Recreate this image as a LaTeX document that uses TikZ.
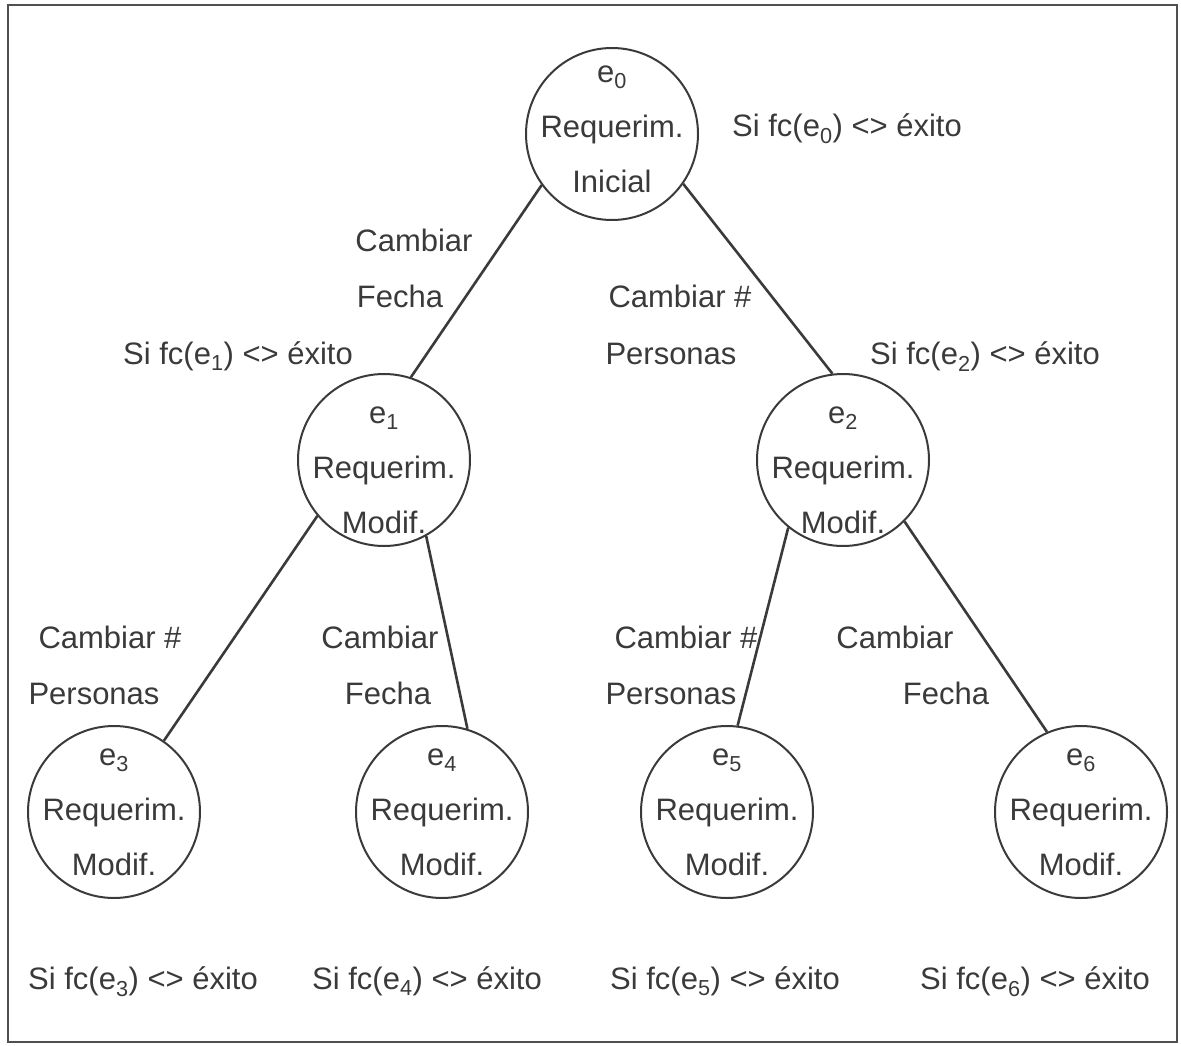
\documentclass[tikz,border=0pt]{standalone}
\usepackage{fontspec}
\setmainfont{Liberation Sans}
\definecolor{ink}{HTML}{3A3A3A}
\definecolor{rule}{HTML}{505050}
\begin{document}
\begin{tikzpicture}[x=1pt,y=-1pt,
  state/.style={circle,draw=ink,line width=2pt,minimum size=172pt,inner sep=0pt},
  stxt/.style={align=center,text=ink,inner sep=0pt,font=\fontsize{31}{55}\selectfont},
  lbl/.style={text=ink,font=\fontsize{31}{37}\selectfont,inner sep=0pt,
    text height=23pt,text depth=0pt},
  edge/.style={draw=ink,line width=2.6pt}]
\useasboundingbox (0,0) rectangle (1181,1046);
\draw[rule,line width=2.5pt] (8,5) rectangle (1177,1042);

% states of the search tree
\node[state] (e0) at (612,134) {};
\node[state] (e1) at (384,460) {};
\node[state] (e2) at (843,460) {};
\node[state] (e3) at (114,812) {};
\node[state] (e4) at (442,812) {};
\node[state] (e5) at (727,812) {};
\node[state] (e6) at (1081,812) {};

\node[stxt] (s0) at ([yshift=5pt]e0.center) {e\textsubscript{0}\\Requerim.\\Inicial};
\node[stxt] (s1) at ([yshift=-10pt]e1.center) {e\textsubscript{1}\\Requerim.\\Modif.};
\node[stxt] (s2) at ([yshift=-10pt]e2.center) {e\textsubscript{2}\\Requerim.\\Modif.};
\node[stxt] (s3) at (e3.center) {e\textsubscript{3}\\Requerim.\\Modif.};
\node[stxt] (s4) at (e4.center) {e\textsubscript{4}\\Requerim.\\Modif.};
\node[stxt] (s5) at (e5.center) {e\textsubscript{5}\\Requerim.\\Modif.};
\node[stxt] (s6) at (e6.center) {e\textsubscript{6}\\Requerim.\\Modif.};

% transitions
\draw[edge] (e0.216) -- (e1.72);
\draw[edge] (e0.325) -- (e2.97);
\draw[edge] (e1.220) -- (e3.55);
\draw[edge] (e1.299) -- (e4.73);
\draw[edge] (e2.231) -- (e5.83);
\draw[edge] (e2.315) -- (e6.113);

% operator labels
\node[lbl] (a1) at (414,240) {Cambiar};
\node[lbl] (b1) at (400,296) {Fecha};
\node[lbl] (a2) at (680,296) {Cambiar \#};
\node[lbl] (b2) at (671,353) {Personas};
\node[lbl] (a3) at (110,637) {Cambiar \#};
\node[lbl] (b3) at (94,693) {Personas};
\node[lbl] (a4) at (380,637) {Cambiar};
\node[lbl] (b4) at (388,693) {Fecha};
\node[lbl] (a5) at (686,637) {Cambiar \#};
\node[lbl] (b5) at (671,693) {Personas};
\node[lbl] (a6) at (895,637) {Cambiar};
\node[lbl] (b6) at (946,693) {Fecha};

% goal tests
\node[lbl] (t0) at (847,125) {Si fc(e\textsubscript{0}) <> éxito};
\node[lbl] (t1) at (238,353) {Si fc(e\textsubscript{1}) <> éxito};
\node[lbl] (t2) at (985,353) {Si fc(e\textsubscript{2}) <> éxito};
\node[lbl] (t3) at (143,978) {Si fc(e\textsubscript{3}) <> éxito};
\node[lbl] (t4) at (427,978) {Si fc(e\textsubscript{4}) <> éxito};
\node[lbl] (t5) at (725,978) {Si fc(e\textsubscript{5}) <> éxito};
\node[lbl] (t6) at (1035,978) {Si fc(e\textsubscript{6}) <> éxito};
\end{tikzpicture}
\end{document}
